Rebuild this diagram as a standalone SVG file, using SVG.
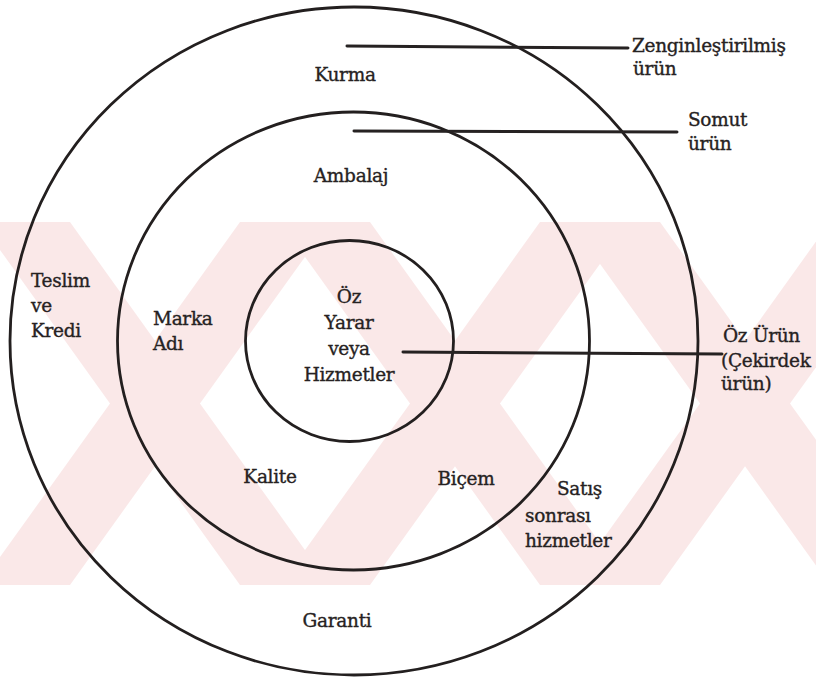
<svg xmlns="http://www.w3.org/2000/svg" width="816" height="682" viewBox="0 0 816 682">
  <style>
    .ring { fill: none; stroke: #231f1f; stroke-width: 2.8; }
    .lead { fill: none; stroke: #262222; stroke-width: 3; stroke-linecap: round; }
    text { font-family: "DejaVu Serif", "Liberation Serif", serif; font-size: 18.5px; fill: #262222; stroke: #262222; stroke-width: 0.35px; letter-spacing: -0.3px; }
    .mid { text-anchor: middle; }
    .band { fill: #fae8e8; }
  </style>
  <defs>
    <clipPath id="stripClip">
      <rect x="0" y="222" width="816" height="363"/>
    </clipPath>
  </defs>

  <rect width="816" height="682" fill="#ffffff"/>

  <!-- background watermark: crossed diagonal bands -->
  <g id="watermark" clip-path="url(#stripClip)">
    <polygon class="band" points="-20,222 70,222 330,585 240,585"/>
    <polygon class="band" points="240,222 330,222 70,585 -20,585"/>
    <polygon class="band" points="280,222 370,222 630,585 540,585"/>
    <polygon class="band" points="540,222 630,222 370,585 280,585"/>
    <polygon class="band" points="570,222 660,222 920,585 830,585"/>
    <polygon class="band" points="830,222 920,222 660,585 570,585"/>
  </g>

  <!-- nested product levels -->
  <g id="outer-ring"><ellipse class="ring" cx="354" cy="341" rx="344" ry="334"/></g>
  <g id="middle-ring"><ellipse class="ring" cx="353.5" cy="341" rx="236" ry="229"/></g>
  <g id="inner-ring"><ellipse class="ring" cx="349.5" cy="341" rx="104" ry="100.5"/></g>

  <!-- leader lines to level names -->
  <g id="connectors">
    <line class="lead" x1="347" y1="46" x2="628" y2="48"/>
    <line class="lead" x1="354" y1="131" x2="677" y2="132"/>
    <line class="lead" x1="403" y1="352" x2="722" y2="354"/>
  </g>

  <g id="label-zenginlestirilmis">
    <text x="632" y="52">Zenginleştirilmiş</text>
    <text x="633" y="75">ürün</text>
  </g>
  <g id="label-somut">
    <text x="688" y="126">Somut</text>
    <text x="688" y="150">ürün</text>
  </g>
  <g id="label-oz-urun">
    <text x="723" y="342">Öz Ürün</text>
    <text x="721" y="367">(Çekirdek</text>
    <text x="721" y="390">ürün)</text>
  </g>

  <g id="kurma"><text class="mid" x="345" y="81">Kurma</text></g>
  <g id="ambalaj"><text class="mid" x="351" y="182">Ambalaj</text></g>
  <g id="teslim">
    <text x="31" y="287">Teslim</text>
    <text x="31" y="312">ve</text>
    <text x="31" y="337">Kredi</text>
  </g>
  <g id="marka">
    <text x="153" y="325">Marka</text>
    <text x="153" y="350">Adı</text>
  </g>
  <g id="oz-yarar">
    <text class="mid" x="349" y="303">Öz</text>
    <text class="mid" x="349" y="329">Yarar</text>
    <text class="mid" x="349" y="355">veya</text>
    <text class="mid" x="349" y="381">Hizmetler</text>
  </g>
  <g id="kalite"><text class="mid" x="270" y="483">Kalite</text></g>
  <g id="bicem"><text class="mid" x="466" y="485">Biçem</text></g>
  <g id="satis">
    <text x="557" y="495">Satış</text>
    <text x="525" y="522">sonrası</text>
    <text x="525" y="547">hizmetler</text>
  </g>
  <g id="garanti"><text class="mid" x="337" y="627">Garanti</text></g>
</svg>
